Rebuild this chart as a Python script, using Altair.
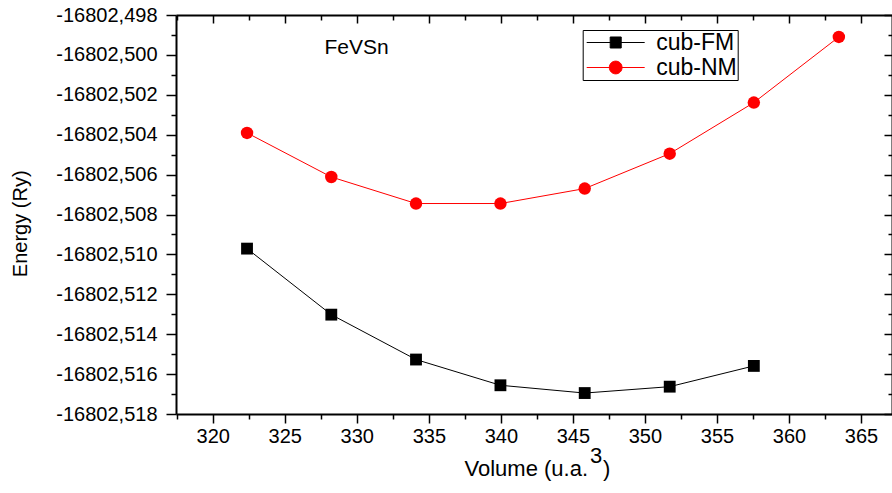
import altair as alt
import pandas as pd

# ---------------- data ----------------
volumes = [322.38, 328.23, 334.11, 339.97, 345.82, 351.72, 357.56, 363.46]
fm_energy = [-16802.50971, -16802.51302, -16802.51527, -16802.51656,
             -16802.51695, -16802.51663, -16802.51559]
nm_energy = [-16802.50391, -16802.50612, -16802.50745, -16802.50745,
             -16802.50670, -16802.50495, -16802.50239, -16802.49910]
series_names = ["cub-FM", "cub-NM"]
series_colors = ["#000000", "#ff0000"]
x_ticks = [317.5 + 2.5 * k for k in range(20)]
y_ticks = [round(-16802.518 + 0.001 * k, 3) for k in range(21)]
x_domain = [317.45, 367.15]
y_domain = [-16802.518, -16802.498]
plot_label = "FeVSn"
x_title_parts = ["Volume (u.a.", "3", ")"]
y_title = "Energy (Ry)"

rows = []
for v, e in zip(volumes, fm_energy):
    rows.append({"V": v, "E": e, "series": series_names[0]})
for v, e in zip(volumes, nm_energy):
    rows.append({"V": v, "E": e, "series": series_names[1]})
df = pd.DataFrame(rows)

FONT = "Liberation Sans"
W, H = 716, 399

xs = alt.Scale(domain=x_domain, nice=False, zero=False)
ys = alt.Scale(domain=y_domain, nice=False, zero=False)

x_major = "datum.value % 5 == 0"
y_major = "round((datum.value + 16802.518) * 1000) % 2 == 0"

common = dict(grid=False, domainColor="black", domainWidth=2, tickColor="black",
              tickWidth=1.5, labelOverlap=False, labelFlush=False, labelBound=False)

x_main = alt.Axis(orient="bottom", values=x_ticks, title=None,
                  labelExpr=f"{x_major} ? format(datum.value, 'd') : ''",
                  tickSize={"condition": {"test": x_major, "value": 9}, "value": 5},
                  labelFont=FONT, labelFontSize=20, labelColor="black", labelPadding=3,
                  **common)
x_top = alt.Axis(orient="bottom", offset=-H, values=x_ticks, title=None, labels=False,
                 tickSize={"condition": {"test": x_major, "value": 8}, "value": 5},
                 **common)
y_main = alt.Axis(orient="left", values=y_ticks,
                  labelExpr=f"{y_major} ? '-' + replace(format(abs(datum.value), '.3f'), '.', ',') : ''",
                  tickSize={"condition": {"test": y_major, "value": 10}, "value": 5},
                  labelFont=FONT, labelFontSize=20, labelColor="black", labelPadding=9,
                  title=y_title, titleFont=FONT, titleFontSize=20, titleFontWeight="normal",
                  titleColor="black", titleX=-149.5, titleY=208.3, titleAngle=270,
                  titleAlign="center", titleBaseline="alphabetic",
                  **common)
y_right = alt.Axis(orient="left", offset=-W, values=y_ticks, title=None, labels=False,
                   tickSize={"condition": {"test": y_major, "value": 8}, "value": 4},
                   **common)

base = alt.Chart(df)
is_fm = alt.datum.series == series_names[0]
is_nm = alt.datum.series == series_names[1]

line_fm = base.transform_filter(is_fm).mark_line(strokeWidth=1, color=series_colors[0]).encode(
    x=alt.X("V:Q", scale=xs, axis=x_main),
    y=alt.Y("E:Q", scale=ys, axis=y_main),
)
line_nm = base.transform_filter(is_nm).mark_line(strokeWidth=1, color=series_colors[1]).encode(
    x=alt.X("V:Q", scale=xs, axis=None),
    y=alt.Y("E:Q", scale=ys, axis=None),
)
fm_pts = base.transform_filter(is_fm).mark_point(
    shape="square", filled=True, size=140, opacity=1, color=series_colors[0]
).encode(
    x=alt.X("V:Q", scale=xs, axis=x_top),
    y=alt.Y("E:Q", scale=ys, axis=y_right),
)
nm_pts = base.transform_filter(is_nm).mark_point(
    shape="circle", filled=True, size=155, opacity=1, color=series_colors[1]
).encode(
    x=alt.X("V:Q", scale=xs, axis=None),
    y=alt.Y("E:Q", scale=ys, axis=None),
)

# legend symbols: a line with the marker on it
sq_path = "M-1,0H1M-0.19,-0.19H0.19V0.19H-0.19Z"
ci_path = "M-1,0H1M-0.22,0A0.22,0.22,0,1,1,0.22,0A0.22,0.22,0,1,1,-0.22,0Z"
legend = alt.Legend(title=None, orient="none", legendX=406.7, legendY=15,
                    strokeColor="black", fillColor="white", padding=0,
                    symbolSize=3364, symbolStrokeWidth=1, symbolOffset=3.5,
                    symbolOpacity=1, labelOffset=11, labelFont=FONT,
                    labelFontSize=23, labelColor="black", clipHeight=25,
                    rowPadding=0, labelLimit=300)
legend_layer = base.transform_filter("false").mark_point(filled=True, opacity=1).encode(
    color=alt.Color("series:N", scale=alt.Scale(domain=series_names, range=series_colors), legend=legend),
    stroke=alt.Stroke("series:N", scale=alt.Scale(domain=series_names, range=series_colors), legend=legend),
    shape=alt.Shape("series:N", scale=alt.Scale(domain=series_names, range=[sq_path, ci_path]), legend=legend),
)

def text_layer(txt, x, y, size, align="center"):
    return alt.Chart(pd.DataFrame({"t": [txt]})).mark_text(
        font=FONT, fontSize=size, color="black", align=align, baseline="alphabetic"
    ).encode(text="t:N", x=alt.value(x), y=alt.value(y))

label_layer = text_layer(plot_label, 180.5, 39.3, 21)
xt1 = text_layer(x_title_parts[0], 412, 461, 22, "right")
xt2 = text_layer(x_title_parts[1], 414, 448, 22, "left")
xt3 = text_layer(x_title_parts[2], 427, 461, 22, "left")

chart = alt.layer(line_fm, line_nm, fm_pts, nm_pts, legend_layer, label_layer, xt1, xt2, xt3).resolve_axis(
    x="independent", y="independent"
).properties(
    width=W, height=H,
    padding={"left": 176, "top": 15, "right": 0, "bottom": 79},
    autosize=alt.AutoSizeParams(type="none"),
    background="white",
).configure_view(stroke=None)

chart.save("out.html", embed_options={"renderer": "svg", "actions": False})
